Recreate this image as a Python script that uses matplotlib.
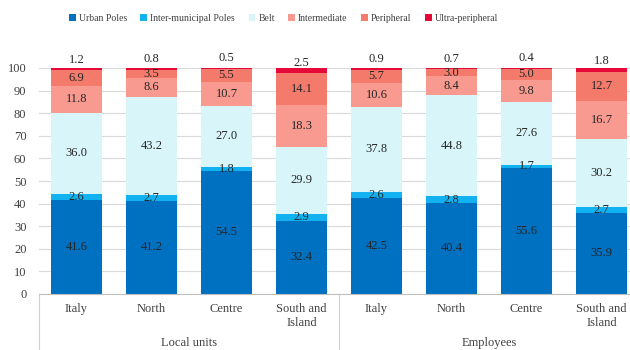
import matplotlib
matplotlib.use("Agg")
import matplotlib.pyplot as plt
import matplotlib.transforms as mtransforms
import numpy as np

plt.rcParams['font.family'] = ['Liberation Serif', 'DejaVu Serif']

categories = ["Italy", "North", "Centre", "South and\nIsland",
              "Italy", "North", "Centre", "South and\nIsland"]
groups = ["Local units", "Employees"]

series_names = ["Urban Poles", "Inter-municipal Poles", "Belt",
                "Intermediate", "Peripheral", "Ultra-peripheral"]
urban_poles = [41.6, 41.2, 54.5, 32.4, 42.5, 40.4, 55.6, 35.9]
inter_poles = [2.6, 2.7, 1.8, 2.9, 2.6, 2.8, 1.7, 2.7]
belt = [36.0, 43.2, 27.0, 29.9, 37.8, 44.8, 27.6, 30.2]
intermediate = [11.8, 8.6, 10.7, 18.3, 10.6, 8.4, 9.8, 16.7]
peripheral = [6.9, 3.5, 5.5, 14.1, 5.7, 3.0, 5.0, 12.7]
ultra_peripheral = [1.2, 0.8, 0.5, 2.5, 0.9, 0.7, 0.4, 1.8]

colors = ["#0070C0", "#12B2F0", "#D8F6FA", "#F89A90", "#F47A6C", "#E5093A"]

series = [urban_poles, inter_poles, belt, intermediate, peripheral, ultra_peripheral]

fig = plt.figure(figsize=(6.3, 3.5), dpi=100)
ax = fig.add_axes([39 / 630, 56 / 350, 600 / 630, 226 / 350])

x = np.arange(len(categories))
bottom = np.zeros(len(categories))
handles = []
for name, vals, col in zip(series_names, series, colors):
    vals = np.array(vals)
    b = ax.bar(x, vals, 0.667, bottom=bottom, color=col, label=name, zorder=2)
    handles.append(b)
    if name != "Ultra-peripheral":
        for xi, v, b0 in zip(x, vals, bottom):
            ax.text(xi, b0 + v / 2, "%.1f" % v, ha='center', va='center',
                    fontsize=9, color='#262626', zorder=3)
    else:
        # small top segment: label sits above the bar
        for xi, v in zip(x, vals):
            ax.text(xi, 104.8 - v, "%.1f" % v, ha='center', va='center',
                    fontsize=9, color='#262626', clip_on=False)
    bottom += vals

ax.set_xlim(-0.5, 7.5)
ax.set_ylim(0, 100)
ax.set_yticks(np.arange(0, 101, 10))
ax.tick_params(axis='y', length=0, labelsize=9, labelcolor='#404040', pad=9)
ax.set_xticks([])
ax.yaxis.grid(True, color='#D9D9D9', linewidth=0.8, zorder=0)
ax.set_axisbelow(True)
for s in ['left', 'right', 'top']:
    ax.spines[s].set_visible(False)
ax.spines['bottom'].set_color('#BFBFBF')
ax.spines['bottom'].set_linewidth(0.8)

trans = mtransforms.blended_transform_factory(ax.transData, ax.transAxes)
for xs in [-0.5, 3.5, 7.5]:
    ax.plot([xs, xs], [0, -0.3], transform=trans, color='#D0D0D0',
            linewidth=0.8, clip_on=False)

for xi, lab in zip(x, categories):
    ax.text(xi, -0.04, lab, transform=trans, ha='center', va='top',
            fontsize=9, color='#404040', linespacing=1.25)

for gi, g in enumerate(groups):
    ax.text(1.5 + 4 * gi, -0.216, g, transform=trans, ha='center',
            va='center', fontsize=9, color='#404040')

fig.legend(handles, series_names, loc='center', bbox_to_anchor=(0.45, 0.948),
           ncol=6, frameon=False, fontsize=7, handlelength=0.7,
           handleheight=0.7, handletextpad=0.3, columnspacing=1.4,
           labelcolor='#404040')

fig.savefig("out.png", dpi=100)
